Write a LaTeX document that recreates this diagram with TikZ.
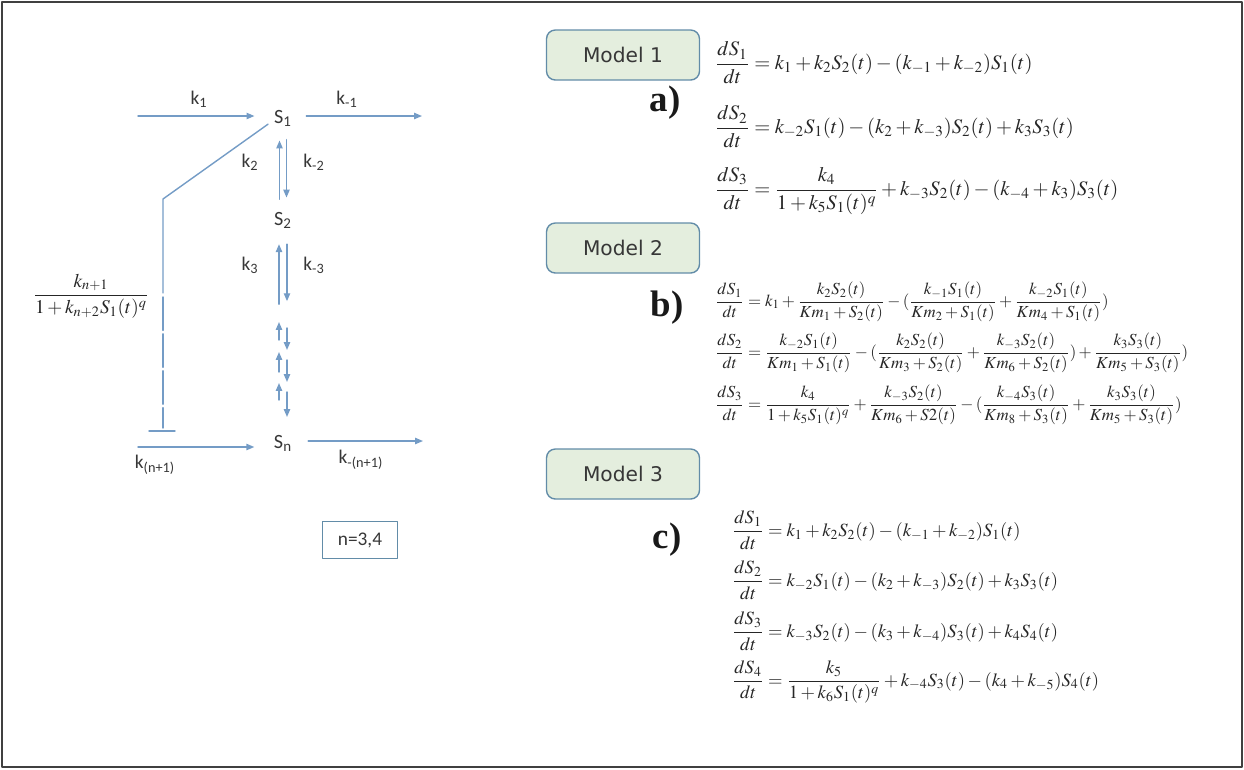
\documentclass[tikz,border=0pt]{standalone}
\usepackage{mathptmx}
\usepackage{fontspec}
\setmainfont{Liberation Serif}
\newfontfamily\labelfont{Carlito}
\newfontfamily\boxfont{DejaVu Sans}
\newfontfamily\panelfont{Liberation Serif Bold}
\usetikzlibrary{arrows.meta,positioning,calc}
\definecolor{flowblue}{RGB}{116,156,198}
\definecolor{boxfill}{RGB}{228,238,222}
\definecolor{boxline}{RGB}{98,140,168}
\definecolor{inkgray}{RGB}{55,55,55}
\tikzset{
  flow/.style={draw=flowblue, line width=0.8pt, -{Triangle[length=4.5pt,width=3.6pt]}},
  inhib/.style={draw=flowblue, line width=0.8pt},
  species/.style={font=\labelfont\fontsize{11.5}{13}\selectfont, text=inkgray, inner sep=1pt},
  rate/.style={font=\labelfont\fontsize{11}{13}\selectfont, text=inkgray, inner sep=1pt},
  modelbox/.style={draw=boxline, fill=boxfill, line width=0.8pt, rounded corners=5pt,
    minimum width=3.06cm, minimum height=1cm, font=\boxfont\fontsize{11.5}{13}\selectfont, text=inkgray},
  panel/.style={font=\panelfont\fontsize{21}{24}\selectfont, text=black!90},
  eqa/.style={anchor=west, inner sep=0pt, text=black!85, font=\fontsize{11.7}{14}\selectfont},
  eqb/.style={anchor=west, inner sep=0pt, text=black!85, font=\fontsize{9.6}{12}\selectfont},
  eqc/.style={anchor=west, inner sep=0pt, text=black!85, font=\fontsize{10.6}{13}\selectfont}
}
\begin{document}
\begin{tikzpicture}[x=0.02cm, y=-0.02cm, line join=round, line cap=round]
  \useasboundingbox (0,0) rectangle (1244,769);
  \draw[black!75, line width=0.6pt] (2,2) rectangle (1242,767);
  %% reaction chain
  \node[species] (S1) at (283,118) {S\textsubscript{1}};
  \node[species] (S2) at (283,220) {S\textsubscript{2}};
  \node[species] (Sn) at (283,443) {S\textsubscript{n}};
  \coordinate (in1) at (138,116);
  \coordinate (out1) at (422,116);
  \coordinate (inn) at (138,447);
  \coordinate (outn) at (423,441);
  \draw[flow, shorten >=10pt] (in1) -- (in1 -| S1.west);
  \draw[flow, shorten <=7pt] (S1.east |- out1) -- (out1);
  \draw[flow, shorten >=10pt] (inn) -- (inn -| Sn.west);
  \draw[flow, shorten <=8pt] (Sn.east |- outn) -- (outn);
  \draw[flow, shorten <=6pt, shorten >=7pt] ($(S2.north)+(-3.5,0)$) -- ($(S1.south)+(-3.5,0)$);
  \draw[flow, shorten <=6.5pt, shorten >=7pt] ($(S1.south)+(3.5,0)$) -- ($(S2.north)+(3.5,0)$);
  \draw[flow] ($(S2.south)+(-4,74)$) -- ++(0,-60);
  \draw[flow] ($(S2.south)+(4,14)$) -- ++(0,57);
  % dotted continuation
  \foreach \yt/\yh in {340/322, 372/352, 400/383}
    \draw[flow] (279,\yt) -- (279,\yh);
  \foreach \yt/\yh in {328/350, 360/382, 392/417}
    \draw[flow] (287,\yt) -- (287,\yh);
  %% rate labels
  \node[rate] (k1) at (199,99) {k\textsubscript{1}};
  \node[rate] (km1) at (347,99) {k\textsubscript{-1}};
  \node[rate] (k2) at (250,162) {k\textsubscript{2}};
  \node[rate] (km2) at (314,162) {k\textsubscript{-2}};
  \node[rate] (k3) at (250,265) {k\textsubscript{3}};
  \node[rate] (km3) at (314,265) {k\textsubscript{-3}};
  \node[rate] (kn) at (155,465) {k\textsubscript{(n+1)}};
  \node[rate] (kmn) at (361,460) {k\textsubscript{-(n+1)}};
  %% feedback inhibition
  \coordinate (bend) at (163,199);
  \coordinate (bar) at (163,431);
  \draw[inhib] ($(S1.south west)+(-4,-4)$) -- (bend) -- ($(bend)+(0,94)$);
  \draw[inhib, dash pattern=on 19pt off 2pt] ($(bend)+(0,98)$) -- ($(bar)+(0,-3)$);
  \draw[inhib] ($(bar)+(-14,0)$) -- ($(bar)+(12,0)$);
  \node[text=black!85, font=\fontsize{11}{13}\selectfont] (inh) at (91,296)
    {$\displaystyle\frac{k_{n+1}}{1+k_{n+2}S_1(t)^q}$};
  \node[draw=boxline, line width=0.6pt, minimum width=1.5cm, minimum height=0.74cm,
    rate] (nval) at (360,540) {n=3,4};
  %% models
  \node[modelbox] (m1) at (623,55) {Model 1};
  \node[modelbox] (m2) at (623,248) {Model 2};
  \node[modelbox] (m3) at (623,474) {Model 3};
  \node[panel] (pa) at (665,103) {a)};
  \node[panel] (pb) at (667,308) {b)};
  \node[panel] (pc) at (667,540) {c)};
  % model 1
  \node[eqa] (a1) at (715,63) {$\displaystyle \frac{dS_1}{dt} = k_1 + k_2S_2(t) - (k_{-1} + k_{-2})S_1(t)$};
  \node[eqa] (a2) at (715,127) {$\displaystyle \frac{dS_2}{dt} = k_{-2}S_1(t) - (k_2 + k_{-3})S_2(t) + k_3S_3(t)$};
  \node[eqa] (a3) at (715,191) {$\displaystyle \frac{dS_3}{dt} = \frac{k_4}{1 + k_5S_1(t)^q} + k_{-3}S_2(t) - (k_{-4} + k_3)S_3(t)$};
  % model 2
  \node[eqb] (b1) at (715,302) {$\displaystyle \frac{dS_1}{dt} = k_1 + \frac{k_2S_2(t)}{Km_1 + S_2(t)} - (\frac{k_{-1}S_1(t)}{Km_2 + S_1(t)} + \frac{k_{-2}S_1(t)}{Km_4 + S_1(t)})$};
  \node[eqb] (b2) at (715,353) {$\displaystyle \frac{dS_2}{dt} = \frac{k_{-2}S_1(t)}{Km_1 + S_1(t)} - (\frac{k_2S_2(t)}{Km_3 + S_2(t)} + \frac{k_{-3}S_2(t)}{Km_6 + S_2(t)}) + \frac{k_3S_3(t)}{Km_5 + S_3(t)})$};
  \node[eqb] (b3) at (715,405) {$\displaystyle \frac{dS_3}{dt} = \frac{k_4}{1 + k_5S_1(t)^q} + \frac{k_{-3}S_2(t)}{Km_6 + S2(t)} - (\frac{k_{-4}S_3(t)}{Km_8 + S_3(t)} + \frac{k_3S_3(t)}{Km_5 + S_3(t)})$};
  % model 3
  \node[eqc] (c1) at (732,530) {$\displaystyle \frac{dS_1}{dt} = k_1 + k_2S_2(t) - (k_{-1} + k_{-2})S_1(t)$};
  \node[eqc] (c2) at (732,580) {$\displaystyle \frac{dS_2}{dt} = k_{-2}S_1(t) - (k_2 + k_{-3})S_2(t) + k_3S_3(t)$};
  \node[eqc] (c3) at (732,631) {$\displaystyle \frac{dS_3}{dt} = k_{-3}S_2(t) - (k_3 + k_{-4})S_3(t) + k_4S_4(t)$};
  \node[eqc] (c4) at (732,682) {$\displaystyle \frac{dS_4}{dt} = \frac{k_5}{1 + k_6S_1(t)^q} + k_{-4}S_3(t) - (k_4 + k_{-5})S_4(t)$};
\end{tikzpicture}
\end{document}
